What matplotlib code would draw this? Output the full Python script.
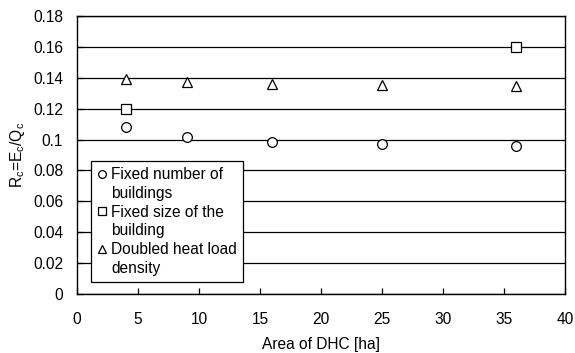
import matplotlib
matplotlib.use("Agg")
import matplotlib.pyplot as plt
from matplotlib.lines import Line2D
from matplotlib.ticker import FuncFormatter, MultipleLocator

plt.rcParams['font.family'] = ['Liberation Sans', 'DejaVu Sans']
plt.rcParams['mathtext.default'] = 'regular'

area = [4, 9, 16, 25, 36]
fixed_number = [0.108, 0.1017, 0.0987, 0.0968, 0.0957]
fixed_size_area = [4, 36]
fixed_size = [0.120, 0.160]
doubled_density = [0.139, 0.137, 0.136, 0.1355, 0.1346]

labels = [("Fixed number of", "buildings"),
          ("Fixed size of the", "building"),
          ("Doubled heat load", "density")]

FS = 11.2

fig = plt.figure(figsize=(5.75, 3.53), dpi=100)
ax = fig.add_axes([77/575, 1-294/353, (565-77)/575, (294-16)/353])

ax.set_xlim(0, 40)
ax.set_ylim(0, 0.18)
ax.xaxis.set_major_locator(MultipleLocator(5))
ax.yaxis.set_major_locator(MultipleLocator(0.02))
ax.yaxis.set_major_formatter(FuncFormatter(lambda v, p: "%g" % round(v, 3)))
ax.grid(axis='y', color='black', linewidth=0.9)
ax.set_axisbelow(True)
ax.tick_params(direction='in', length=4, width=0.9, labelsize=FS, colors='black')
ax.tick_params(axis='x', pad=13)
ax.tick_params(axis='y', pad=10)
for s in ax.spines.values():
    s.set_linewidth(1.0)
    s.set_color('black')

mk = dict(linestyle='none', markerfacecolor='white', markeredgecolor='black',
          markeredgewidth=0.9)
h1, = ax.plot(area, fixed_number, marker='o', markersize=7, **mk)
h2, = ax.plot(fixed_size_area, fixed_size, marker='s', markersize=6.5, **mk)
h3, = ax.plot(area, doubled_density, marker='^', markersize=7.5, **mk)

ax.set_xlabel("Area of DHC [ha]", fontsize=FS, labelpad=7)
ax.set_ylabel("R$_c$=E$_c$/Q$_c$", fontsize=FS, labelpad=4)

# Each legend label wraps onto a second line; the marker sits beside the first.
blank = Line2D([], [], linestyle='none', marker=None)
handles, texts = [], []
for h, (first, second) in zip([h1, h2, h3], labels):
    handles += [h, blank]
    texts += [first, second]

leg = ax.legend(handles, texts, loc='upper left',
                bbox_to_anchor=(91/575, 1-161/353),
                bbox_transform=fig.transFigure, borderaxespad=0,
                fontsize=FS, frameon=True, fancybox=False, framealpha=1,
                edgecolor='black', handlelength=0.6, handletextpad=0.3,
                borderpad=0.4, labelspacing=0.24, markerscale=0.8)
leg.get_frame().set_linewidth(0.9)

fig.savefig("out.png", dpi=100)
